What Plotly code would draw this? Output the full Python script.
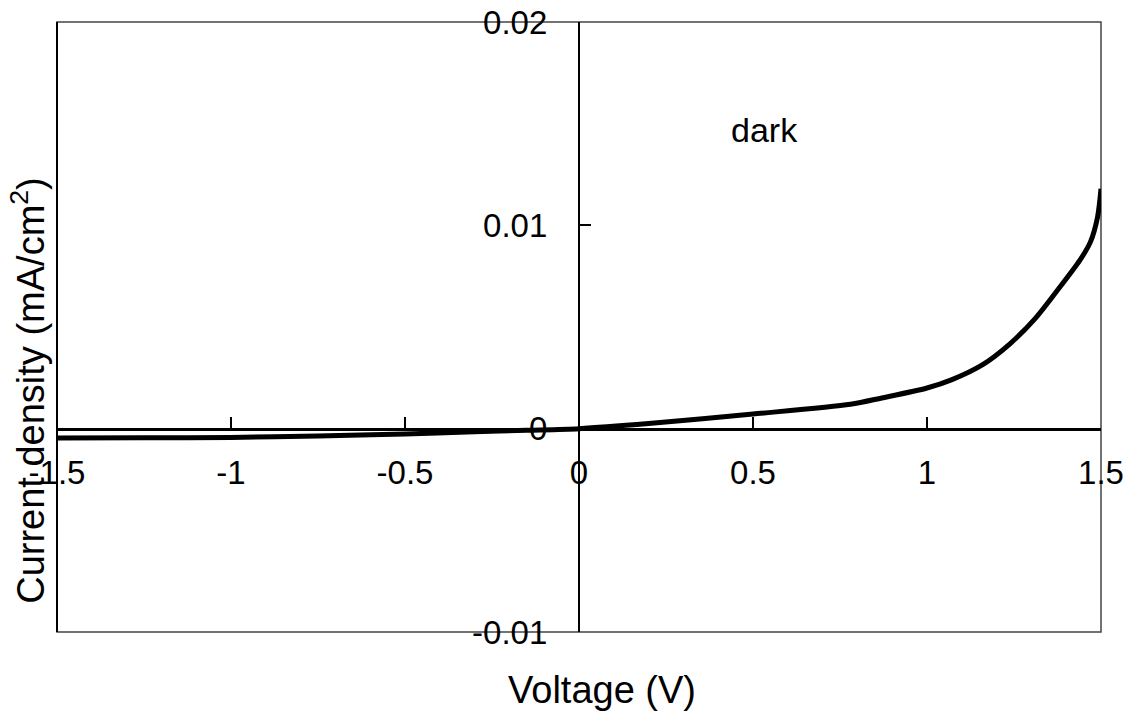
import plotly.graph_objects as go

voltage = [-1.5, -1.25, -1.0, -0.75, -0.5, -0.3, -0.15, 0.0, 0.2, 0.5, 0.78, 0.87,
           1.0, 1.07, 1.16, 1.24, 1.31, 1.37, 1.44, 1.47, 1.49, 1.5]
current = [-0.00046, -0.00045, -0.00043, -0.00036, -0.00026, -0.00015, -0.00008, 0.0,
           0.00025, 0.00072, 0.00120, 0.00151, 0.0020, 0.0024, 0.00315, 0.0042,
           0.0054, 0.0067, 0.0083, 0.0092, 0.0104, 0.0118]

x_ticks = [-1.5, -1, -0.5, 0, 0.5, 1, 1.5]
x_tick_text = ["-1.5", "-1", "-0.5", "0", "0.5", "1", "1.5"]
y_ticks = [-0.01, 0, 0.01, 0.02]
y_tick_text = ["-0.01", "0", "0.01", "0.02"]

FONT = "Liberation Sans, Arial, sans-serif"

fig = go.Figure()
fig.add_trace(go.Scatter(x=voltage, y=current, mode="lines",
                         line=dict(color="black", width=5, shape="spline", smoothing=0.8),
                         showlegend=False, hoverinfo="skip"))

fig.update_layout(
    width=1134, height=718,
    margin=dict(l=57, r=33, t=22, b=86, autoexpand=False),
    paper_bgcolor="white", plot_bgcolor="white",
    font=dict(family=FONT, color="black"),
    xaxis=dict(range=[-1.5, 1.5], anchor="free", position=1/3, automargin=False,
               tickvals=x_ticks, ticktext=x_tick_text,
               ticks="inside", ticklen=11, tickwidth=1.5, tickcolor="black",
               showline=True, linecolor="black", linewidth=2.5,
               showgrid=False, zeroline=False,
               tickfont=dict(size=33, family=FONT), ticklabelstandoff=14),
    yaxis=dict(range=[-0.01, 0.02], anchor="free", position=0.5, automargin=False,
               tickvals=y_ticks, ticktext=y_tick_text,
               ticks="inside", ticklen=11, tickwidth=1.5, tickcolor="black",
               showline=True, linecolor="black", linewidth=2.2,
               showgrid=False, zeroline=False,
               tickfont=dict(size=33, family=FONT), ticklabelstandoff=24),
    shapes=[
        dict(type="rect", xref="paper", yref="paper", x0=0, x1=1, y0=0, y1=1,
             line=dict(color="#444", width=1.5), layer="below"),
        dict(type="line", xref="paper", yref="paper", x0=0, x1=0, y0=0, y1=1,
             line=dict(color="black", width=2)),
    ],
    annotations=[
        dict(text="Voltage (V)", xref="paper", yref="paper", x=0.522, y=-0.095,
             xanchor="center", yanchor="middle", showarrow=False,
             font=dict(size=38, family=FONT)),
        dict(text="Current density (mA/cm<sup>2</sup>)", xref="paper", yref="paper",
             x=-0.0278, y=0.397, textangle=-90, xanchor="center", yanchor="middle",
             showarrow=False, font=dict(size=38, family=FONT)),
        dict(text="dark", xref="x", yref="y", x=0.534, y=0.0147,
             xanchor="center", yanchor="middle", showarrow=False,
             font=dict(size=34, family=FONT)),
    ],
)

fig.write_html("out.html")
